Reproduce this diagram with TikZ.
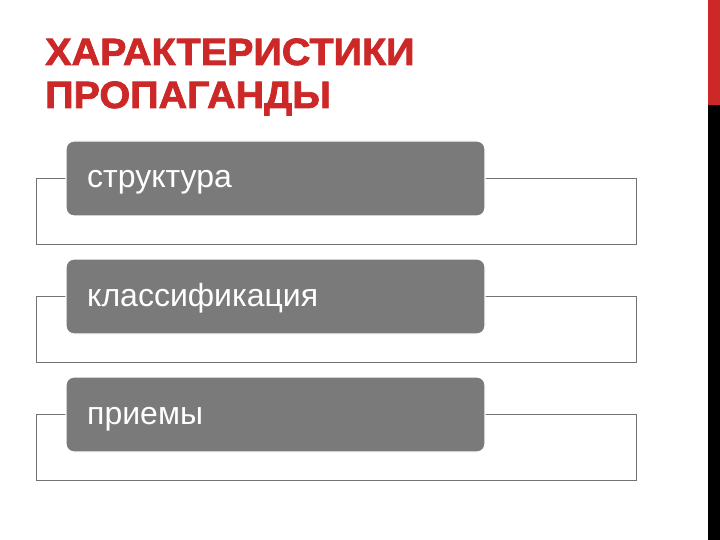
\documentclass[tikz,border=0pt]{standalone}
\usepackage{fontspec}
\setmainfont{Liberation Sans}
\newfontfamily\titelschrift[FakeBold=2,FakeStretch=1.04]{Liberation Sans Bold}
\usetikzlibrary{positioning}
\definecolor{titelrot}{RGB}{204,40,40}
\definecolor{balkengrau}{RGB}{122,122,122}
\tikzset{
    rahmen/.style={
        draw=black!55,       % feine graue Kontur
        line width=0.8pt
    },
    balken/.style={
        rectangle,
        rounded corners=8pt,
        fill=balkengrau,
        draw=white,
        line width=1.2pt,
        minimum width=419pt,
        minimum height=75pt
    },
    beschriftung/.style={
        anchor=base west,
        inner sep=0pt,
        text=white,
        font=\fontsize{32}{34}\selectfont
    },
    titel/.style={
        anchor=base west,
        inner sep=0pt,
        text=titelrot,
        font=\fontsize{38}{44}\selectfont\titelschrift
    }
}

\begin{document}
\begin{tikzpicture}[x=1pt, y=-1pt]

    % Seitenformat 720 x 540 festlegen
    \useasboundingbox (0,0) rectangle (720,540);
    \fill[white] (0,0) rectangle (720,540);

    % Leiste am rechten Rand
    \fill[titelrot] (708,0) rectangle (720,105);
    \fill[black] (708,105) rectangle (720,540);

    % Überschrift in zwei Zeilen
    \node[titel] (titel1) at (45,65) {ХАРАКТЕРИСТИКИ};
    \node[titel] (titel2) at (45,108) {ПРОПАГАНДЫ};

    % drei Balken mit Rahmen, Abstand 118
    \foreach \text [count=\i from 0] in {структура, классификация, приемы} {
        \draw[rahmen] (36,{178+118*\i}) rectangle (636,{244+118*\i});
        \node[balken] (balken\i) at (275.5,{178.5+118*\i}) {};
        \node[beschriftung] (text\i) at (87,{188+118*\i}) {\text};
    }

\end{tikzpicture}
\end{document}
